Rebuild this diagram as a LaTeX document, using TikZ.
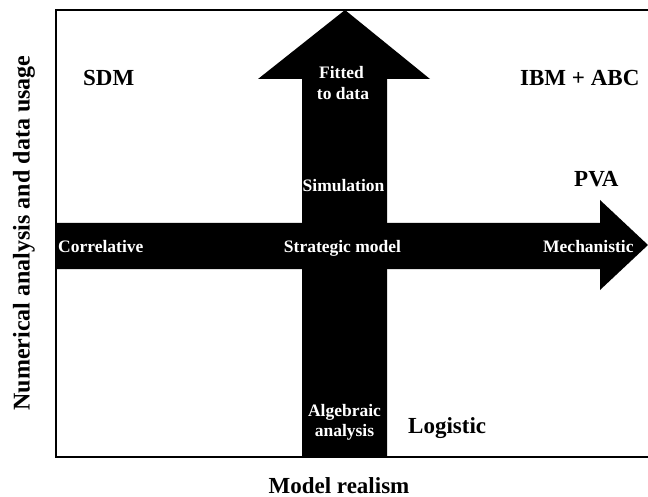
\documentclass[tikz,border=0pt]{standalone}
\usepackage{fontspec}
\setmainfont{Liberation Serif}
\begin{document}
\begin{tikzpicture}[x=1pt,y=-1pt,
  big/.style={font=\bfseries\fontsize{23}{27}\selectfont,inner sep=0pt,text=black},
  small/.style={font=\bfseries\fontsize{17.5}{21}\selectfont,inner sep=0pt,text=white},
  frame/.style={line width=2.5pt,draw=black},
  arrowshape/.style={fill=black,draw=none}]
\useasboundingbox (0,0) rectangle (648,497);
% frame
\coordinate (tl) at (56,10);
\coordinate (tr) at (650,10);
\coordinate (bl) at (56,457);
\coordinate (br) at (650,457);
\draw[frame] (tr) -- (tl) -- (bl) -- (br);
% vertical arrow
\fill[arrowshape] (302,457) -- (302,79) -- (258,79) -- (345,10) -- (430,79) -- (387,79) -- (387,457) -- cycle;
% horizontal arrow
\fill[arrowshape] (56,223) -- (600,223) -- (600,200) -- (648,245) -- (600,290) -- (600,269) -- (56,269) -- cycle;
% big labels
\node[big,anchor=base west] (sdm) at (83,86) {SDM};
\node[big,anchor=base west] (ibm) at (520,86) {IBM + ABC};
\node[big,anchor=base west] (pva) at (574,187) {PVA};
\node[big,anchor=base west] (log) at (408,433) {Logistic};
\node[big,anchor=base] (xlab) at (339,493) {Model realism};
\node[big,rotate=90,font=\bfseries\fontsize{24}{28}\selectfont] (ylab) at (24,233) {Numerical analysis and data usage};
% small labels
\node[small,anchor=base west] (cor) at (58,252) {Correlative};
\node[small,anchor=base west] (mech) at (543,252) {Mechanistic};
\node[small,anchor=base] (strat) at (342.5,252) {Strategic model};
\node[small,anchor=base] (sim) at (343.5,192) {Simulation};
\node[small,anchor=base] (fit1) at (341.5,79) {Fitted};
\node[small,anchor=base] (fit2) at (343,100) {to data};
\node[small,anchor=base] (alg1) at (344.5,416) {Algebraic};
\node[small,anchor=base] (alg2) at (344.5,436) {analysis};
\end{tikzpicture}
\end{document}
